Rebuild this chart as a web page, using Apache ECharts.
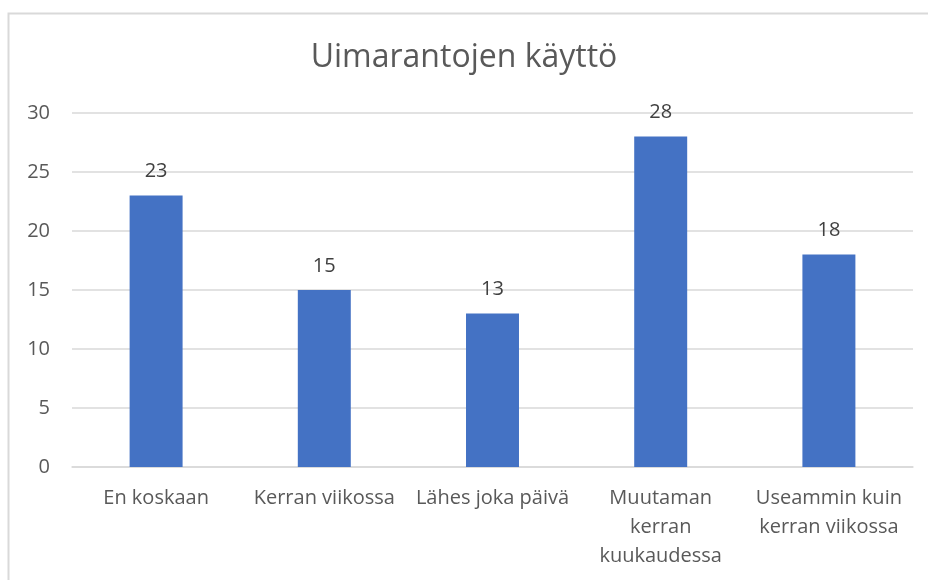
<!DOCTYPE html>
<html>
<head>
<meta charset="utf-8">
<script src="https://cdn.jsdelivr.net/npm/echarts@6/dist/echarts.min.js"></script>
<style>
html, body { margin: 0; padding: 0; background: #fff; }
#main { width: 928px; height: 580px; }
</style>
</head>
<body>
<div id="main"></div>
<script>
var categories = ['En koskaan', 'Kerran viikossa', 'Lähes joka päivä', 'Muutaman\nkerran\nkuukaudessa', 'Useammin kuin\nkerran viikossa'];
var values = [23, 15, 13, 28, 18];
var yTicks = [0, 5, 10, 15, 20, 25, 30];

var font = '"Open Sans", "Noto Sans", sans-serif';
var chart = echarts.init(document.getElementById('main'));

var option = {
    animation: false,
    backgroundColor: '#fff',
    textStyle: { fontFamily: font },
    title: {
        text: 'Uimarantojen käyttö',
        left: 'center',
        top: 37,
        textStyle: { fontFamily: font, fontSize: 32, fontWeight: 'normal', color: '#595959' }
    },
    // light frame of the chart area
    graphic: [{
        type: 'rect',
        shape: { x: 8.5, y: 13.5, width: 930, height: 580 },
        style: { fill: 'none', stroke: '#d9d9d9', lineWidth: 2 },
        silent: true
    }],
    grid: { left: 72, right: 15, top: 113, bottom: 113 },
    xAxis: {
        type: 'category',
        data: categories,
        axisLine: { lineStyle: { color: '#d9d9d9', width: 1.5 } },
        axisTick: { show: false },
        axisLabel: {
            interval: 0, color: '#595959', fontSize: 20, fontFamily: font,
            lineHeight: 29, margin: 17
        }
    },
    yAxis: {
        type: 'value',
        min: yTicks[0],
        max: yTicks[yTicks.length - 1],
        interval: 5,
        axisLine: { show: false },
        axisTick: { show: false },
        axisLabel: { color: '#595959', fontSize: 20, fontFamily: font, margin: 22 },
        splitLine: { lineStyle: { color: '#d9d9d9', width: 1.5 } }
    },
    series: [{
        type: 'bar',
        data: values,
        barWidth: '31.5%',
        itemStyle: { color: '#4472C4' },
        label: {
            show: true, position: 'top', distance: 14,
            color: '#404040', fontSize: 20, fontFamily: font
        }
    }]
};

chart.setOption(option);
</script>
</body>
</html>
